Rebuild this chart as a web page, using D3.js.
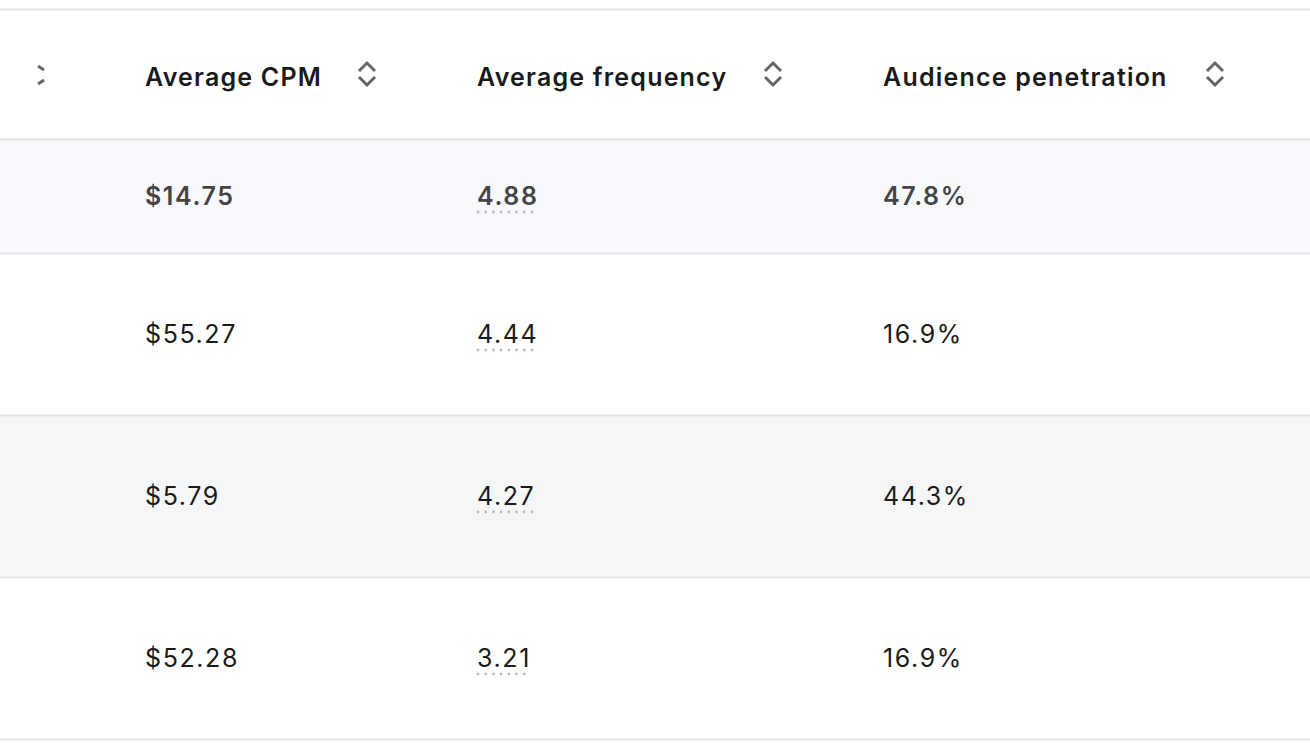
<!DOCTYPE html>
<html><head><meta charset="utf-8">
<script src="https://cdn.jsdelivr.net/npm/d3@7"></script>
<style>body{margin:0;background:#fff;font-family:Inter,"Noto Sans",sans-serif}</style>
</head><body><svg id="c" width="1310" height="750"></svg>
<script>
const columns = ["Average CPM", "Average frequency", "Audience penetration"];
const cpm = ["$14.75", "$55.27", "$5.79", "$52.28"];
const frequency = ["4.88", "4.44", "4.27", "3.21"];
const penetration = ["47.8%", "16.9%", "44.3%", "16.9%"];
const rowBg = ["#f8f9fc", "#ffffff", "#f5f6f8", "#ffffff"];

const svg = d3.select("#c");
const colX = [145, 477, 883], iconX = [367, 773, 1215];
const rowEdges = [9, 139, 253, 415, 577, 739];
const y = d3.scaleOrdinal().domain(d3.range(4)).range(d3.range(4).map(i => (rowEdges[i+1] + rowEdges[i+2]) / 2));

svg.selectAll("rect.row").data(rowBg).join("rect")
  .attr("x", 0).attr("width", 1310)
  .attr("y", (d, i) => rowEdges[i+1]).attr("height", (d, i) => rowEdges[i+2] - rowEdges[i+1])
  .attr("fill", d => d);
svg.selectAll("line.sep").data(rowEdges).join("line")
  .attr("x1", 0).attr("x2", 1310).attr("y1", d => d + 0.5).attr("y2", d => d + 0.5)
  .attr("stroke", "#e4e4e6").attr("stroke-width", 2);

function sortIcon(g, x, yc) {
  g.append("path").attr("d", `M${x-8},${yc-3} L${x},${yc-11} L${x+8},${yc-3} M${x-8},${yc+3} L${x},${yc+11} L${x+8},${yc+3}`)
    .attr("fill", "none").attr("stroke", "#666").attr("stroke-width", 3);
}
svg.append("path").attr("d", "M38,66 L44,70 M38,84 L44,80").attr("stroke", "#666").attr("stroke-width", 3);

const hdr = svg.append("g");
columns.forEach((c, i) => {
  hdr.append("text").attr("x", colX[i]).attr("y", 86).attr("font-size", 25).attr("font-weight", 600)
    .attr("letter-spacing", 1.2).attr("fill", "#1a1a1a").text(c);
  sortIcon(hdr, iconX[i], 74);
});

const cols = [cpm, frequency, penetration];
cols.forEach((arr, ci) => {
  const t = svg.selectAll(null).data(arr).join("text")
    .attr("x", colX[ci]).attr("y", (d, i) => y(i) + 9)
    .attr("font-size", 25).attr("letter-spacing", 1.6)
    .attr("font-weight", (d, i) => i === 0 ? 600 : 400)
    .attr("fill", (d, i) => i === 0 ? "#444" : "#1a1a1a")
    .text(d => d);
  if (ci === 1) {
    t.each(function(d, i) {
      const w = this.getComputedTextLength() - 1.6;
      const n = Math.floor(w / 7.7) + 1;
      svg.selectAll(null).data(d3.range(n)).join("circle")
        .attr("cx", k => colX[1] + 1 + k * 7.7).attr("cy", y(i) + 16).attr("r", 1.4).attr("fill", "#bbb");
    });
  }
});
</script></body></html>
